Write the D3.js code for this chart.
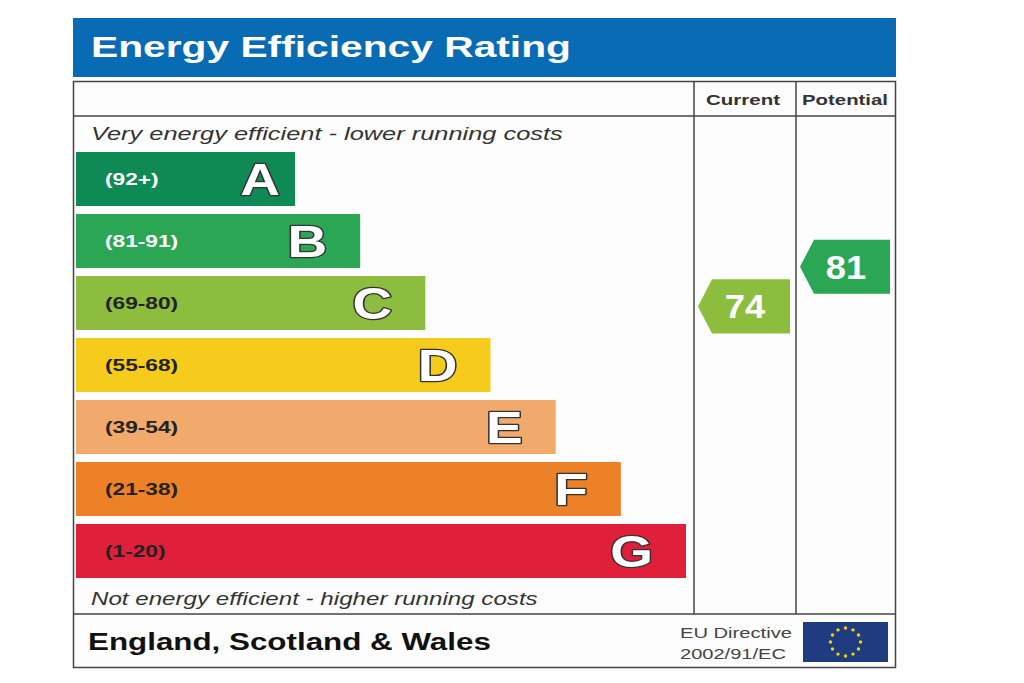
<!DOCTYPE html>
<html><head><meta charset="utf-8">
<script src="https://cdn.jsdelivr.net/npm/d3@7"></script>
<style>body{margin:0;background:#fff}svg{display:block}</style>
</head><body>
<svg id="c" width="1024" height="683"></svg>
<script>
const letters = ["A","B","C","D","E","F","G"];
const ranges = ["(92+)","(81-91)","(69-80)","(55-68)","(39-54)","(21-38)","(1-20)"];
const bandMin = [92,81,69,55,39,21,1];
const bandMax = [100,91,80,68,54,38,20];
const colors = ["#0f8a55","#2aa655","#8cbd3f","#f5cc1b","#f1a96c","#ec8127","#e01f3b"];
const labelColors = ["#fff","#fff","#222","#222","#222","#222","#222"];
const currentScore = 74, potentialScore = 81;
const title = "Energy Efficiency Rating";
const topNote = "Very energy efficient - lower running costs";
const bottomNote = "Not energy efficient - higher running costs";
const footer = "England, Scotland & Wales";
const directive = ["EU Directive","2002/91/EC"];
const headers = ["Current","Potential"];

const svg = d3.select("#c");
const font = "Liberation Sans, Arial, sans-serif";

const y = d3.scaleBand().domain(letters).range([152,578]).paddingInner(0.129).paddingOuter(0);
const xEnd = d3.scaleLinear().domain([0,6]).range([295,686]);
const left = 76;

function bandOf(s){ return bandMin.findIndex((m,i)=> s>=m && s<=bandMax[i]); }
function scoreY(s){
  const i = bandOf(s);
  const t = (bandMax[i]-s+0.75)/(bandMax[i]-bandMin[i]+1);
  return y(letters[i]) + t*y.bandwidth();
}

// place text at (x,y) stretched horizontally: either to a target width or by a factor
function txt(parent, s, x, yy, opts){
  const t = parent.append("text").attr("x",0).attr("y",0).attr("font-family",font)
    .attr("font-size",opts.size).attr("fill",opts.fill||"#333")
    .attr("font-weight",opts.bold?"bold":"normal").attr("font-style",opts.italic?"italic":"normal")
    .attr("text-anchor",opts.anchor||"start").text(s);
  if(opts.stroke){ t.attr("stroke",opts.stroke).attr("stroke-width",opts.sw||2).attr("paint-order","stroke").attr("stroke-linejoin","round"); }
  let k = opts.scale||1;
  if(opts.width){ k = opts.width / t.node().getComputedTextLength(); }
  t.attr("transform",`translate(${x},${yy}) scale(${k},1)`);
  return t;
}

// title bar
svg.append("rect").attr("x",73).attr("y",18).attr("width",823).attr("height",59).attr("fill","#0a6bb5");
txt(svg, title, 91, 57, {size:29, bold:true, fill:"#fff", width:480});

// frame
svg.append("rect").attr("x",73.5).attr("y",81.5).attr("width",822).attr("height",586).attr("fill","#fdfdfd").attr("stroke","#444").attr("stroke-width",1.5);
svg.append("line").attr("x1",73).attr("x2",896).attr("y1",116).attr("y2",116).attr("stroke","#444").attr("stroke-width",1.5);
svg.append("line").attr("x1",73).attr("x2",896).attr("y1",614).attr("y2",614).attr("stroke","#444").attr("stroke-width",1.5);
[694,796].forEach(x=>svg.append("line").attr("x1",x).attr("x2",x).attr("y1",81).attr("y2",614).attr("stroke","#444").attr("stroke-width",1.5));

// headers
txt(svg, headers[0], 743, 105, {size:15, bold:true, anchor:"middle", fill:"#333", width:74});
txt(svg, headers[1], 845, 105, {size:15, bold:true, anchor:"middle", fill:"#333", width:86});

// notes
txt(svg, topNote, 91, 140, {size:18, italic:true, fill:"#333", width:472});
txt(svg, bottomNote, 91, 605, {size:18, italic:true, fill:"#333", width:447});

// bars
letters.forEach((d,i)=>{
  const g = svg.append("g");
  g.append("rect").attr("x",left).attr("y",y(d)).attr("height",y.bandwidth())
    .attr("width",xEnd(i)-left).attr("fill",colors[i]);
  txt(g, ranges[i], 105, y(d)+y.bandwidth()/2+6, {size:16, bold:true, fill:labelColors[i], scale:1.42});
  txt(g, d, xEnd(i)-(i===0?15:33), y(d)+y.bandwidth()/2+16, {size:44, bold:true, fill:"#fff", anchor:"end", stroke:"#333", sw:2.5, scale:1.25});
});

// score arrows
function arrow(score, x0, x1){
  const i = bandOf(score);
  const cy = scoreY(score), h = y.bandwidth()/2;
  const tip = 14;
  const pts = [[x0,cy],[x0+tip,cy-h],[x1,cy-h],[x1,cy+h],[x0+tip,cy+h]];
  svg.append("path").attr("d","M"+pts.map(p=>p.join(",")).join("L")+"Z").attr("fill",colors[i]);
  txt(svg, String(score), (x0+tip+x1)/2-6, cy+12, {size:33, bold:true, fill:"#fff", anchor:"middle", scale:1.1});
}
arrow(currentScore, 698, 790);
arrow(potentialScore, 800, 890);

// footer
txt(svg, footer, 88, 650, {size:24, bold:true, fill:"#111", width:403});
txt(svg, directive[0], 680, 638, {size:15, fill:"#444", width:112});
txt(svg, directive[1], 680, 659, {size:15, fill:"#444", width:106});
svg.append("rect").attr("x",803).attr("y",622).attr("width",85).attr("height",40).attr("fill","#203c80");
const stars = d3.range(12);
svg.selectAll("circle.star").data(stars).join("circle").attr("class","star")
  .attr("cx",d=>845.5+15*Math.cos(d*Math.PI/6)).attr("cy",d=>642+14*Math.sin(d*Math.PI/6))
  .attr("r",1.7).attr("fill","#f5d400");
</script>
</body></html>
